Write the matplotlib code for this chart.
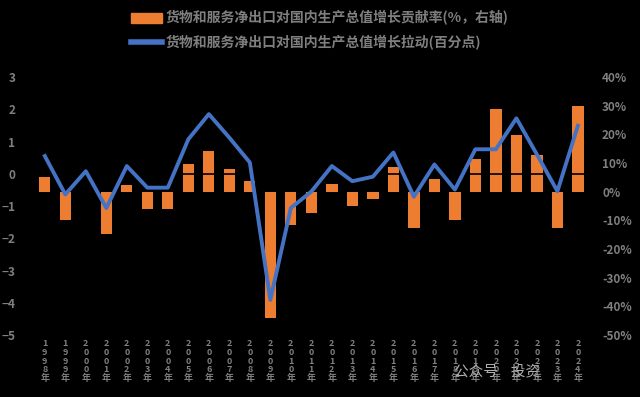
import matplotlib.pyplot as plt
from matplotlib.patches import Patch
from matplotlib.lines import Line2D

plt.rcParams['font.family'] = ['Noto Sans CJK SC', 'DejaVu Sans']

# Data (annual, 1998-2024)
years = list(range(1998, 2025))
contrib_rate = [5.0, -9.7, 0.0, -14.6, 2.4, -6.0, -6.0, 9.7, 14.2, 8.0,
                3.8, -44.0, -11.5, -7.6, 2.8, -4.9, -2.4, 8.7, -12.8, 4.5,
                -10.0, 11.5, 28.8, 19.8, 12.8, -12.5, 29.9]
pull_points = [0.55, -0.64, 0.08, -1.06, 0.24, -0.43, -0.43, 1.07, 1.85, 1.12,
               0.35, -3.91, -1.06, -0.55, 0.24, -0.23, -0.09, 0.66, -0.71, 0.29,
               -0.49, 0.76, 0.76, 1.72, 0.60, -0.54, 1.49]
x_labels = ["\n".join(f"{y}年") for y in years]

bar_label = "货物和服务净出口对国内生产总值增长贡献率(%，右轴)"
line_label = "货物和服务净出口对国内生产总值增长拉动(百分点)"

ORANGE = "#ED7D31"
BLUE = "#4472C4"
GRAY = "#7f7f7f"

fig = plt.figure(figsize=(6.4, 3.97), dpi=100, facecolor="black")
ax = fig.add_axes([0.054, 0.156, 0.865, 0.650])
ax2 = ax.twinx()
ax.set_zorder(ax2.get_zorder() + 1)
ax.patch.set_visible(False)
ax2.set_facecolor("black")

xs = list(range(len(years)))
ax2.bar(xs, contrib_rate, width=0.55, color=ORANGE, zorder=2)
ax.axhline(0, color="black", linewidth=1.2, zorder=1)
ax.plot(xs, pull_points, color=BLUE, linewidth=2.8, solid_joinstyle="round", zorder=3)

ax.set_xlim(-0.5, len(years) - 0.5)
ax.set_ylim(-5, 3)
ax.set_yticks(range(-5, 4))
ax2.set_ylim(-50, 40)
ax2.set_yticks(range(-50, 41, 10))
ax2.set_yticklabels([f"{v}%" for v in range(-50, 41, 10)])

ax.set_xticks(xs)
ax.set_xticklabels(x_labels, fontsize=6.5, color=GRAY, linespacing=0.95,
                   fontweight="bold")
for a in (ax, ax2):
    for s in a.spines.values():
        s.set_visible(False)
    a.tick_params(length=0)
ax.tick_params(axis="y", labelsize=8.5, labelcolor=GRAY, pad=14)
ax2.tick_params(axis="y", labelsize=8.5, labelcolor=GRAY, pad=10)
ax.tick_params(axis="x", pad=3)
for t in ax.get_yticklabels() + ax2.get_yticklabels():
    t.set_fontweight("bold")

handles = [Patch(facecolor=ORANGE, edgecolor=ORANGE),
           Line2D([0], [0], color=BLUE, linewidth=4)]
fig.legend(handles, [bar_label, line_label], loc="upper center",
           bbox_to_anchor=(0.5, 1.005), frameon=False,
           labelcolor=GRAY, prop={"weight": "bold", "size": 10},
           handlelength=2.2, handletextpad=0.3, labelspacing=0.7)

fig.text(0.71, 0.055, "公众号    投资", color="#b0b0b0", fontsize=10.5)

fig.savefig("out.png", dpi=100, facecolor="black")
